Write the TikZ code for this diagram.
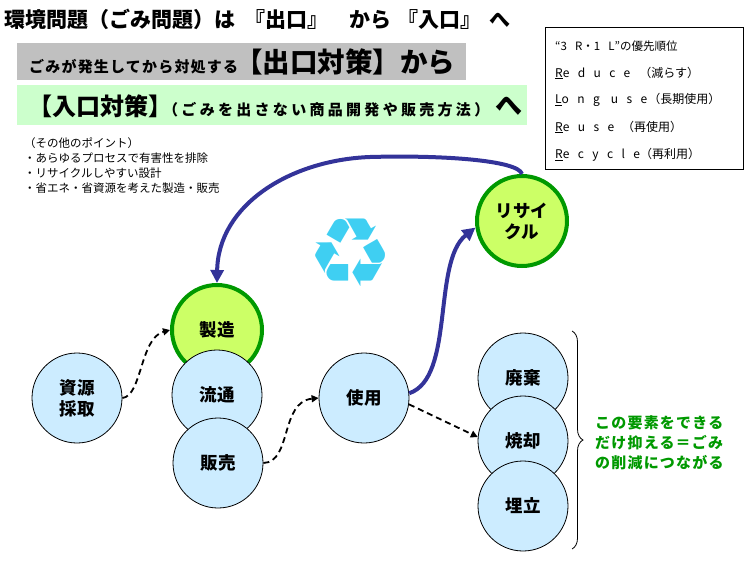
\documentclass[tikz,border=0pt]{standalone}
\usepackage{fontspec}
\setmainfont{Noto Sans CJK JP}
\newfontfamily\jpsp{Noto Sans CJK JP}[LetterSpace=8]
\newfontfamily\jpspw{Noto Sans CJK JP}[LetterSpace=22]
\newfontfamily\jpwide{Noto Sans CJK JP}[LetterSpace=70]
\newfontfamily\dvs{DejaVu Sans}
\usetikzlibrary{arrows.meta,decorations.pathreplacing}
\definecolor{lblue}{HTML}{CCECFF}
\definecolor{lgreen}{HTML}{CCFF66}
\definecolor{dgreen}{HTML}{009900}
\definecolor{navy}{HTML}{333399}
\definecolor{graybox}{HTML}{C0C0C0}
\definecolor{mint}{HTML}{CCFFCC}
\definecolor{cyanr}{HTML}{3FCFF2}
\newcommand{\fs}[1]{\fontsize{#1}{#1}\selectfont}
\begin{document}
\begin{tikzpicture}[x=1pt,y=-1pt,
  stage/.style={circle,draw=black,line width=0.8pt,fill=lblue,minimum size=90pt,inner sep=0pt,
    font=\fontsize{17.5}{21}\selectfont\bfseries,align=center},
  keystage/.style={circle,draw=dgreen,line width=4pt,fill=lgreen,minimum size=90pt,inner sep=0pt,
    font=\fontsize{17.5}{21}\selectfont\bfseries,align=center},
  flow/.style={line width=1.8pt,dash pattern=on 6pt off 4pt,-{Triangle[length=7pt,width=7pt]}},
  loop/.style={navy,line width=4pt,-{Triangle[length=13pt,width=13pt]}},
  plain/.style={inner sep=0pt,anchor=west}]
\useasboundingbox (0,0) rectangle (750,560);

% title
\node[plain,font=\fs{21}\bfseries] (title) at (4,19)
 {\makebox[240pt][l]{環境問題（ごみ問題）は}\makebox[105pt][l]{『出口』}\makebox[48pt][l]{から}\makebox[92pt][l]{『入口』}へ};

% boxes
\fill[graybox] (17,43) rectangle (466,80);
\node[plain,font=\bfseries] (outlet) at (29,62)
 {\makebox[206pt][l]{\jpsp\fs{15}ごみが発生してから対処する}{\fs{27.5}【出口対策】から}};
\fill[mint] (17,85) rectangle (527,125);
\node[plain,font=\bfseries] (inlet) at (28,106)
 {{\fs{24}【入口対策】}\hspace{-9pt}{\jpspw\fs{15}（ごみを出さない商品開発や販売方法）}\hspace{6pt}{\fs{27}へ}};

% other points
\node[inner sep=0pt,anchor=north west,align=left,font=\fontsize{11.5}{15}\selectfont] (points) at (24,137)
 {（その他のポイント）\\・あらゆるプロセスで有害性を排除\\・リサイクルしやすい設計\\・省エネ・省資源を考えた製造・販売};

% priority box
\draw[line width=0.8pt] (545,27) rectangle (743,169);
\node[plain,font=\fs{11.5}] (p0) at (555,46) {“{\jpwide 3R}・{\jpwide 1L}”の優先順位};
\node[plain,font=\fs{12}] (p1) at (555,73) {{\jpwide\underline{R}educe}\hspace{9pt}（減らす）};
\node[plain,font=\fs{12}] (p2) at (555,100) {{\jpwide\underline{L}ong use}\hspace{1pt}（長期使用）};
\node[plain,font=\fs{12}] (p3) at (555,127) {{\jpwide\underline{R}euse}\hspace{8pt}（再使用）};
\node[plain,font=\fs{12}] (p4) at (555,155) {{\jpwide\underline{R}ecycle}\hspace{0pt}（再利用）};

% recycle symbol
\node[cyanr,inner sep=0pt,font=\dvs\fs{96}] (sym) at (351,253) {♻};

% circles
\node[stage] (shigen) at (77,398) {資源\\採取};
\node[keystage] (seizo) at (217,330) {製造};
\node[stage] (ryutsu) at (217,395) {流通};
\node[stage] (hanbai) at (218,463) {販売};
\node[stage] (shiyo) at (364,398) {使用};
\node[keystage] (recyc) at (522,221) {リサイ\\クル};
\node[stage] (haiki) at (523,378) {廃棄};
\node[stage] (shokyaku) at (523,441) {焼却};
\node[stage] (umetate) at (523,506) {埋立};

% connectors
\draw[flow] (shigen.east) .. controls (142,396) and (140,338) .. (seizo.west);
\draw[flow] (hanbai.east) .. controls (292,462) and (280,402) .. (shiyo.west);
\draw[flow] (shiyo.-8) -- (shokyaku.175);
\draw[loop] (shiyo.6) .. controls (455,378) and (432,262) .. (recyc.188);
\draw[loop] (recyc.north) .. controls (518,160) and (440,155) .. (370,157)
  .. controls (290,160) and (218,205) .. (seizo.north);

% brace and note
\draw[line width=0.8pt,decorate,decoration={brace,amplitude=11pt}] (572,331) -- (572,549);
\coordinate (bracetip) at (585,440);
\node[inner sep=0pt,anchor=west,align=left,text=dgreen,font=\jpsp\fontsize{15}{20}\selectfont\bfseries] (note) at (595,443)
 {この要素をできる\\だけ抑える＝ごみ\\の削減につながる};
\end{tikzpicture}
\end{document}
